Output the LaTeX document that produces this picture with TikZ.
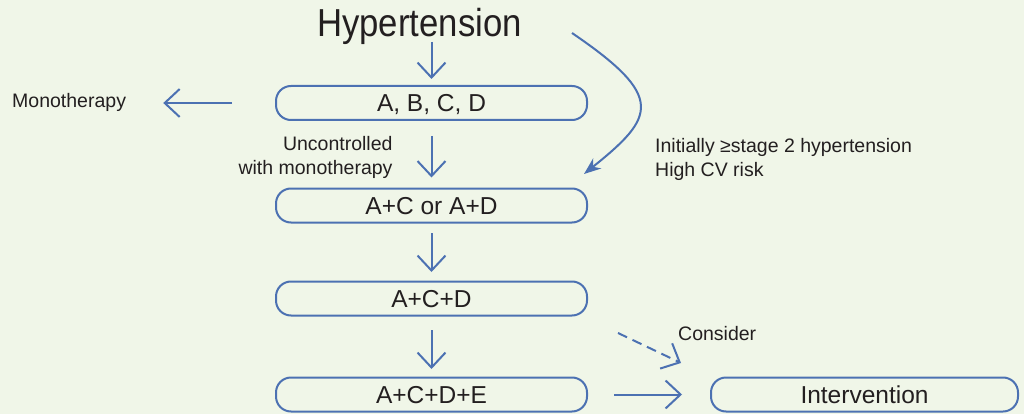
\documentclass[tikz,border=0pt]{standalone}
\usepackage{fontspec}
\setmainfont{Liberation Sans}
\usetikzlibrary{arrows.meta}
\definecolor{paper}{RGB}{240,246,232}
\definecolor{flowblue}{RGB}{76,113,178}
\definecolor{ink}{RGB}{35,31,32}
\tikzset{>={Straight Barb[length=15pt,width=28pt,line join=miter]},
  drug/.style = {draw=flowblue,line width=2pt,rounded corners=15pt,minimum width=311pt,
    minimum height=34pt,inner sep=0pt,text=ink,font=\fontsize{24.5}{29}\selectfont,
    text height=17.5pt,text depth=0pt},
  flow/.style = {->,draw=flowblue,line width=2pt},
  note/.style = {text=ink,inner sep=0pt,font=\fontsize{19.5}{24}\selectfont}
}

\begin{document}
\begin{tikzpicture}[x=1pt,y=-1pt]
  \fill[paper] (0,0) rectangle (1024,414);
  \useasboundingbox (0,0) rectangle (1024,414);

  \node[text=ink,inner sep=0pt,font=\fontsize{39}{46}\selectfont,anchor=base] (hyp) at (419.5,36.5) {\scalebox{0.89}[1]{Hypertension}};
  \node[drug] (abcd) at (431.5,103) {A, B, C, D};
  \node[drug] (dual) at (431.5,205.5) {A+C or A+D};
  \node[drug] (triple) at (431.5,298.5) {A+C+D};
  \node[drug] (quad) at (431.5,394.5) {A+C+D+E};
  \node[drug,minimum width=307pt] (interv) at (864.5,394.5) {Intervention};

  \node[note,anchor=base west] (mono) at (12,108) {Monotherapy};
  \node[note,anchor=base west] (consider) at (678,340) {Consider};
  \node[note,anchor=north west,align=left] (risk) at (655,138) {Initially ≥stage 2 hypertension\\High CV risk};

  \coordinate (risk from) at (572,33);
  \coordinate (risk to) at (584,174);
  \coordinate (consider from) at (618,333);
  \coordinate (consider to) at (681,363);

  \draw[flow,shorten <=5.5pt,shorten >=6pt] (hyp.base -| abcd.north) -- (abcd.north);
  \draw[flow,shorten <=15pt,shorten >=10pt] (abcd.south) -- (dual.north)
    node[note,midway,left=38pt,yshift=-3pt,align=right] {Uncontrolled\\with monotherapy};
  \draw[flow,shorten <=9.5pt,shorten >=8.5pt] (dual.south) -- (triple.north);
  \draw[flow,shorten <=13.5pt,shorten >=7.5pt] (triple.south) -- (quad.north);
  \draw[flow,shorten <=43pt,shorten >=37pt] (abcd.west) -- (abcd.west -| mono.east);
  \draw[flow,shorten <=26pt,shorten >=28pt] (quad.east) -- (interv.west);
  \draw[flow,dash pattern=on 10pt off 6pt] (consider from) -- (consider to);
  \draw[flow,-{Stealth[length=17pt,width=13pt]}] (risk from) .. controls (666,97) and (655,117) .. (risk to);
\end{tikzpicture}
\end{document}
